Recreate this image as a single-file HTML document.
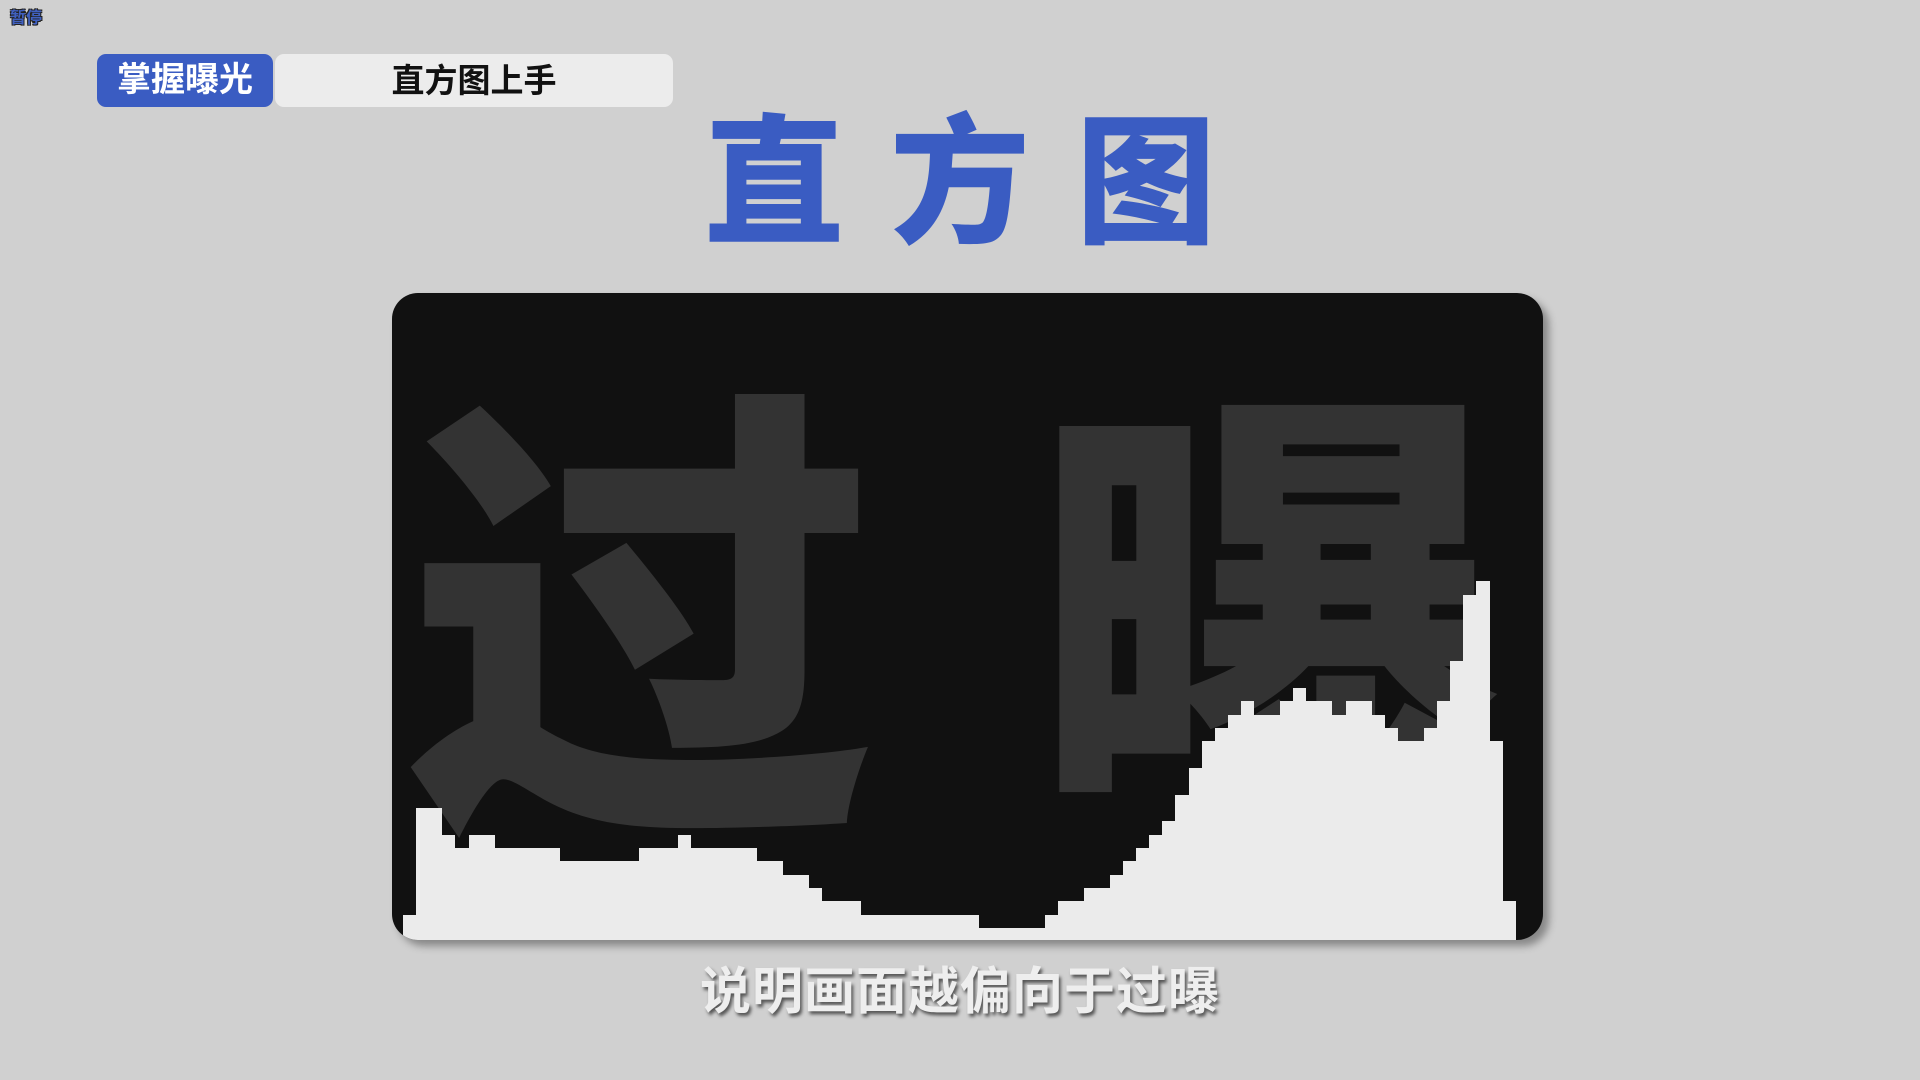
<!DOCTYPE html>
<html><head><meta charset="utf-8">
<style>
html,body{margin:0;padding:0;}
body{width:1920px;height:1080px;background:#d0d0d0;position:relative;overflow:hidden;font-family:"Liberation Sans","Noto Sans CJK SC",sans-serif;}
.abs{position:absolute;}
#pause{left:10px;top:9px;font-size:16px;font-weight:bold;color:#4060c0;text-shadow:-1px -1px 0 #222,1px -1px 0 #222,-1px 1px 0 #222,1px 1px 0 #222;line-height:20px;}
#badge{left:97px;top:54px;width:176px;height:53px;background:#3a5cc2;border-radius:9px;color:#fff;font-size:34px;font-weight:bold;line-height:53px;text-align:center;}
#tab{left:275px;top:54px;width:398px;height:53px;background:#ececec;border-radius:9px;color:#111;font-size:33px;font-weight:bold;line-height:53px;text-align:center;}
#title{left:560px;top:109px;width:800px;text-align:center;white-space:nowrap;font-size:140px;font-weight:900;color:#3a5cc2;letter-spacing:46px;line-height:150px;text-indent:46px;}
#card{left:392px;top:293px;width:1151px;height:647px;background:#111;border-radius:26px;overflow:hidden;box-shadow:6px 6px 8px rgba(0,0,0,0.35);}
.big{position:absolute;color:#333;font-size:470px;font-weight:900;line-height:470px;}
#sub{left:690px;top:962px;width:540px;text-align:center;font-size:51px;font-weight:bold;color:#eeeeee;text-shadow:2px 3px 3px #555;letter-spacing:1px;line-height:60px;}
</style></head>
<body>
<div id="pause" class="abs">暂停</div>
<div id="badge" class="abs">掌握曝光</div>
<div id="tab" class="abs">直方图上手</div>
<div id="title" class="abs">直方图</div>
<div id="card" class="abs">
  <div class="big" style="left:14px;top:102px;">过</div>
  <div class="big" style="left:640px;top:104px;">曝</div>
  <svg id="hist" width="1151" height="647" style="position:absolute;left:0;top:0;" shape-rendering="crispEdges"></svg>
</div>
<div id="sub" class="abs">说明画面越偏向于过曝</div>
<script>
const binIndex = Array.from({length:85},(_,i)=>i);
const binCounts = [2,10,10,8,7,8,8,7,7,7,7,7,6,6,6,6,6,6,7,7,7,8,7,7,7,7,7,6,6,5,5,4,3,3,3,2,2,2,2,2,2,2,2,2,1,1,1,1,1,2,3,3,4,4,5,6,7,8,9,11,13,15,16,17,18,17,17,18,19,18,18,17,18,18,17,16,15,15,16,18,21,26,27,15,3];
const X0 = 11.1, BIN_W = 13.09, BASE = 648.3, UNIT = 13.33;
function xScale(i){ return X0 + i*BIN_W; }
function yScale(v){ return BASE - v*UNIT; }
const svg = document.getElementById('hist');
const NS = 'http://www.w3.org/2000/svg';
binIndex.forEach(i=>{
  const v = binCounts[i];
  const r = document.createElementNS(NS,'rect');
  
  
  const x1 = Math.round(xScale(i)), x2 = Math.round(xScale(i+1));
  const y = Math.round(yScale(v));
  r.setAttribute('x', x1);
  r.setAttribute('y', y);
  r.setAttribute('width', x2 - x1);
  r.setAttribute('height', 660 - y);
  r.setAttribute('fill', '#ebebeb');
  svg.appendChild(r);
});
</script>
</body></html>
